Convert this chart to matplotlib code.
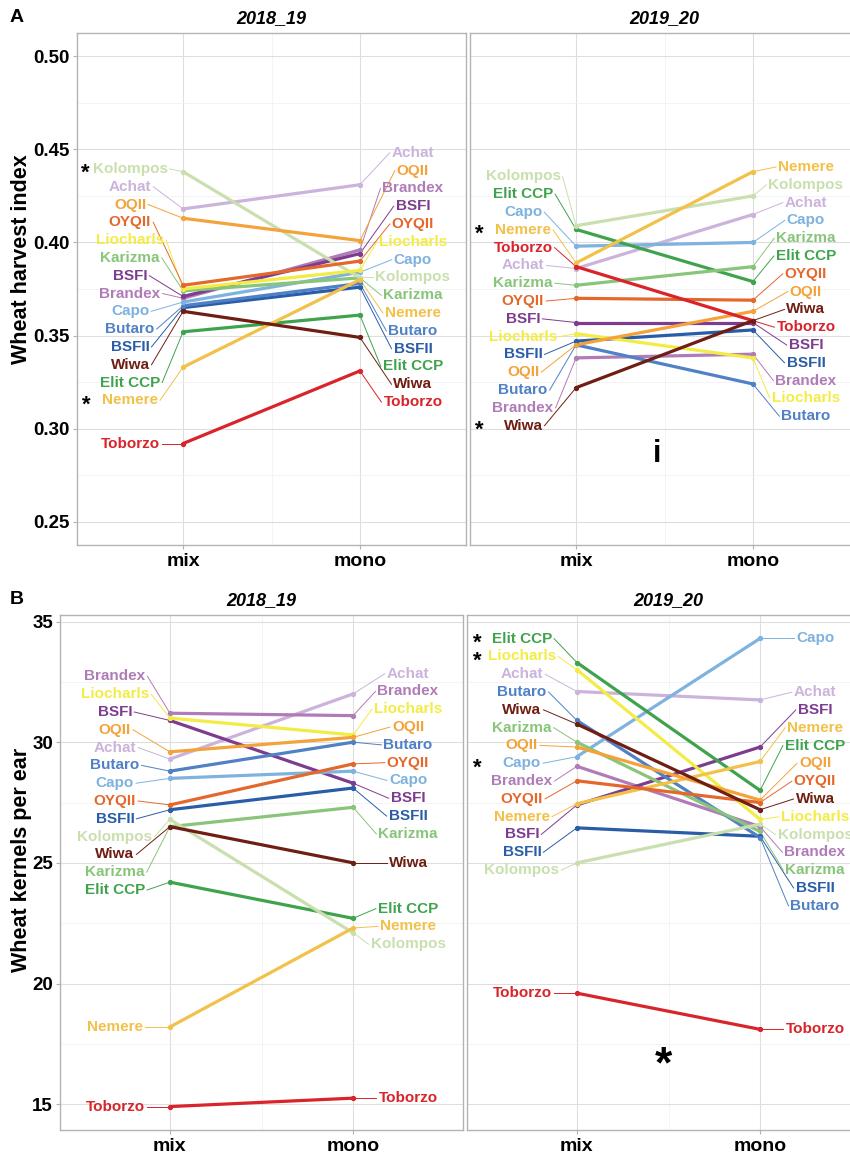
import numpy as np
import matplotlib
matplotlib.use("Agg")
import matplotlib.pyplot as plt

plt.rcParams['font.family'] = ['Liberation Sans', 'DejaVu Sans']

varieties = ['Achat', 'Brandex', 'BSFI', 'BSFII', 'Butaro', 'Capo', 'Elit CCP', 'Karizma',
             'Kolompos', 'Liocharls', 'Nemere', 'OQII', 'OYQII', 'Toborzo', 'Wiwa']
colors = ['#CBB3DB', '#B07CB8', '#7D3C8F', '#2A5DA8', '#4F81C4', '#7EB2DF', '#3FA34D', '#88C57A',
          '#C9DFAE', '#F2EC45', '#F2C14A', '#F3A33A', '#E4682C', '#D8242A', '#6E1E12']

# harvest index
hi_mix_1819 = [0.418, 0.370, 0.371, 0.365, 0.366, 0.368, 0.352, 0.374, 0.438, 0.375, 0.333, 0.413, 0.377, 0.292, 0.363]
hi_mono_1819 = [0.431, 0.396, 0.394, 0.376, 0.378, 0.384, 0.361, 0.381, 0.381, 0.385, 0.380, 0.401, 0.390, 0.331, 0.349]
hi_mix_1920 = [0.386, 0.338, 0.357, 0.347, 0.345, 0.398, 0.407, 0.377, 0.409, 0.351, 0.389, 0.345, 0.370, 0.387, 0.322]
hi_mono_1920 = [0.415, 0.340, 0.357, 0.353, 0.324, 0.400, 0.379, 0.387, 0.425, 0.338, 0.438, 0.363, 0.369, 0.358, 0.358]

# kernels per ear
kpe_mix_1819 = [29.3, 31.2, 30.9, 27.2, 28.8, 28.5, 24.2, 26.5, 26.8, 31.0, 18.2, 29.6, 27.4, 14.9, 26.5]
kpe_mono_1819 = [32.0, 31.1, 28.3, 28.1, 30.0, 28.8, 22.7, 27.3, 22.1, 30.3, 22.3, 30.2, 29.1, 15.25, 25.0]
kpe_mix_1920 = [32.1, 29.0, 27.4, 26.45, 30.9, 29.4, 33.3, 30.0, 25.0, 33.0, 27.45, 29.8, 28.4, 19.6, 30.75]
kpe_mono_1920 = [31.75, 26.5, 29.8, 26.1, 26.05, 34.3, 28.0, 26.3, 26.6, 26.8, 29.2, 27.6, 27.5, 18.1, 27.2]

stars_hi_1819 = ['Kolompos', 'Nemere']
stars_hi_1920 = ['Nemere', 'Wiwa']
stars_kpe_1920 = ['Elit CCP', 'Liocharls', 'Capo']

W, H = 850, 1153
fig = plt.figure(figsize=(W / 100, H / 100), dpi=100)


def px_axes(l, t, r, b):
    return fig.add_axes([l / W, 1 - b / H, (r - l) / W, (b - t) / H])


def repel(y, gap, lo, hi):
    order = np.argsort(y, kind='stable')
    p = np.asarray(y, float)[order].copy()
    for _ in range(3000):
        moved = False
        for k in range(len(p) - 1):
            d = p[k + 1] - p[k]
            if d < gap - 1e-6:
                s = (gap - d) / 2
                p[k] -= s
                p[k + 1] += s
                moved = True
        p = np.clip(p, lo, hi)
        if not moved:
            break
    out = np.empty_like(p)
    out[order] = p
    return out


def setup(ax, title, ylim, yticks, minor, fmt, first):
    ax.set_xlim(0.4, 2.6)
    ax.set_ylim(*ylim)
    ax.set_xticks([1, 2])
    ax.set_xticklabels(['mix', 'mono'], fontsize=14, fontweight='bold')
    ax.set_yticks(yticks)
    ax.set_yticks(minor, minor=True)
    ax.set_xticks([1.5], minor=True)
    if first:
        ax.set_yticklabels([fmt.format(t) for t in yticks], fontsize=13.5, fontweight='bold')
        ax.tick_params(axis='y', length=3, color='#B3B3B3', pad=2)
    else:
        ax.set_yticklabels([])
        ax.tick_params(axis='y', length=0)
    ax.tick_params(axis='y', which='minor', length=0)
    ax.tick_params(axis='x', which='minor', length=0)
    ax.tick_params(axis='x', length=3, color='#B3B3B3', pad=3)
    ax.grid(True, which='major', color='#DEDEDE', lw=0.8)
    ax.grid(True, which='minor', color='#F0F0F0', lw=0.5)
    ax.set_axisbelow(True)
    for s in ax.spines.values():
        s.set_color('#B3B3B3')
        s.set_linewidth(1.0)
    ax.set_title(title, fontsize=13, fontweight='bold', fontstyle='italic', pad=7)


def draw(ax, mix, mono, stars):
    renderer = fig.canvas.get_renderer()
    mix = np.asarray(mix)
    mono = np.asarray(mono)
    n = len(varieties)
    for i in range(n):
        ax.plot([1, 2], [mix[i], mono[i]], color=colors[i], lw=2.3, zorder=3, solid_capstyle='butt')
        ax.plot([1, 2], [mix[i], mono[i]], 'o', color=colors[i], ms=2.8, zorder=4)
    bb_ax = ax.get_window_extent(renderer)
    inv = ax.transData.inverted()
    for xp, vals, xl, side in [(1, mix, 0.7, 'L'), (2, mono, 2.3, 'R')]:
        disp = ax.transData.transform(np.column_stack([np.full(n, xp), vals]))[:, 1]
        new = repel(disp, 17.8, bb_ax.y0 + 9, bb_ax.y1 - 9)
        ylab = inv.transform(np.column_stack([np.zeros(n), new]))[:, 1]
        for i in range(n):
            t = ax.text(xl, ylab[i], varieties[i], color=colors[i], ha='center', va='center',
                        fontsize=11, fontweight='bold', zorder=5)
            bb = t.get_window_extent(renderer)
            ex = bb.x1 + 2 if side == 'L' else bb.x0 - 2
            exd = inv.transform((ex, new[i]))[0]
            ax.plot([exd, xp], [ylab[i], vals[i]], color=colors[i], lw=0.7, zorder=2)
            if side == 'L' and varieties[i] in stars:
                # star sits just left of the label
                sx = inv.transform((min(bb.x0 - 7, ax.transData.transform((0.455, 0))[0]), 0))[0]
                sy = inv.transform((0, new[i] - 10))[1]
                ax.text(sx, sy, '*', fontsize=16, fontweight='bold', ha='center', va='baseline', zorder=5)


hi_lim = (0.2375, 0.5125)
kpe_all = np.concatenate([kpe_mix_1819, kpe_mono_1819, kpe_mix_1920, kpe_mono_1920])
rng = kpe_all.max() - kpe_all.min()
kpe_lim = (kpe_all.min() - 0.05 * rng, kpe_all.max() + 0.05 * rng)

axA1 = px_axes(77, 33, 466, 545)
axA2 = px_axes(470, 33, 859, 545)
axB1 = px_axes(60, 615, 463, 1130)
axB2 = px_axes(467, 615, 870, 1130)

hi_ticks = [0.25, 0.30, 0.35, 0.40, 0.45, 0.50]
hi_minor = [0.275, 0.325, 0.375, 0.425, 0.475]
kpe_ticks = [15, 20, 25, 30, 35]
kpe_minor = [17.5, 22.5, 27.5, 32.5]

setup(axA1, '2018_19', hi_lim, hi_ticks, hi_minor, '{:.2f}', True)
setup(axA2, '2019_20', hi_lim, hi_ticks, hi_minor, '{:.2f}', False)
setup(axB1, '2018_19', kpe_lim, kpe_ticks, kpe_minor, '{:.0f}', True)
setup(axB2, '2019_20', kpe_lim, kpe_ticks, kpe_minor, '{:.0f}', False)

draw(axA1, hi_mix_1819, hi_mono_1819, stars_hi_1819)
draw(axA2, hi_mix_1920, hi_mono_1920, stars_hi_1920)
draw(axB1, kpe_mix_1819, kpe_mono_1819, [])
draw(axB2, kpe_mix_1920, kpe_mono_1920, stars_kpe_1920)

axA2.text(1.46, 0.2866, 'i', fontsize=22, fontweight='bold', ha='center', va='center')
axB2.text(1.47, 16.1, '*', fontsize=32, fontweight='bold', ha='center', va='baseline')

fig.text(22 / W, 1 - 259 / H, 'Wheat harvest index', rotation=90, fontsize=15.5,
         fontweight='bold', ha='center', va='center')
fig.text(22 / W, 1 - 860 / H, 'Wheat kernels per ear', rotation=90, fontsize=15.5,
         fontweight='bold', ha='center', va='center')
fig.text(10 / W, 1 - 18 / H, 'A', fontsize=14, fontweight='bold', ha='left', va='center')
fig.text(10 / W, 1 - 600 / H, 'B', fontsize=14, fontweight='bold', ha='left', va='center')

fig.savefig('out.png', dpi=100)
